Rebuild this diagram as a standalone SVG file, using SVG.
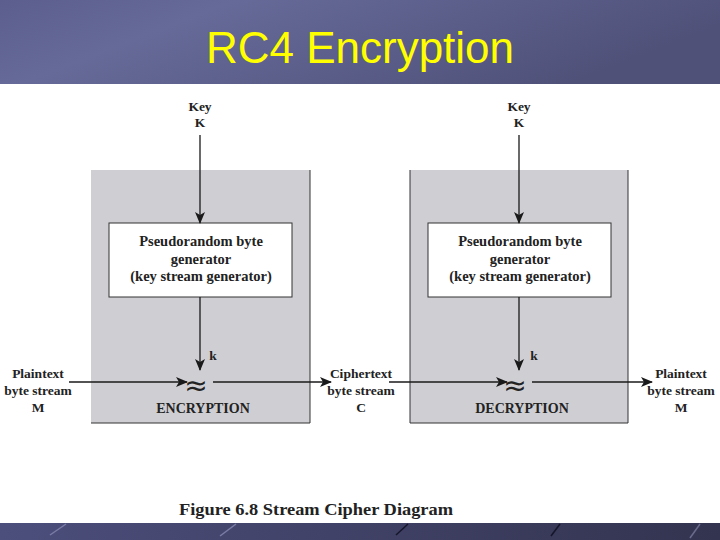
<svg xmlns="http://www.w3.org/2000/svg" width="720" height="540" viewBox="0 0 720 540">
<defs>
<linearGradient id="hdr" x1="0" y1="0" x2="1" y2="0.3">
<stop offset="0" stop-color="#5c5f8d"/>
<stop offset="0.3" stop-color="#666a98"/>
<stop offset="1" stop-color="#4f5179"/>
</linearGradient>
<linearGradient id="ftr" x1="0" y1="0" x2="1" y2="0">
<stop offset="0" stop-color="#4c4e7c"/>
<stop offset="1" stop-color="#33344f"/>
</linearGradient>
<marker id="ah" viewBox="0 0 12 10" refX="11" refY="5" markerWidth="12" markerHeight="10" markerUnits="userSpaceOnUse" orient="auto">
<path d="M0,0 L12,5 L0,10 L3,5 Z" fill="#1a1a1a"/>
</marker>
<style>
.t{font-family:"Liberation Serif","Times New Roman",serif;font-weight:bold;font-size:13.5px;fill:#222;text-anchor:middle}
.c{font-family:"Liberation Serif","Times New Roman",serif;font-weight:bold;font-size:14px;fill:#222;text-anchor:middle}
.b{font-family:"Liberation Serif","Times New Roman",serif;font-size:14.5px;fill:#222;text-anchor:middle;font-weight:bold}
.ln{stroke:#1a1a1a;stroke-width:1.3;fill:none}
.panel{fill:#cfcfd3}
.edge{stroke:#333;stroke-width:1;fill:none}
.gen{fill:#fff;stroke:#333;stroke-width:1}
.x{font-family:"DejaVu Sans",sans-serif;font-size:28px;fill:#222;text-anchor:middle}
</style>
</defs>
<rect x="0" y="0" width="720" height="540" fill="#fff"/>
<rect x="0" y="0" width="720" height="84" fill="url(#hdr)"/>
<text x="360" y="63" font-family="'Liberation Sans',Arial,sans-serif" font-size="44" fill="#ffff00" text-anchor="middle">RC4 Encryption</text>
<rect x="0" y="523" width="720" height="17" fill="url(#ftr)"/>
<g stroke-width="1.5" fill="none">
<line x1="50" y1="535" x2="66" y2="524" stroke="#7a7ca6"/>
<line x1="220" y1="536" x2="236" y2="524" stroke="#7a7ca6"/>
<line x1="396" y1="535" x2="408" y2="524" stroke="#15162a"/>
<line x1="551" y1="536" x2="560" y2="524" stroke="#15162a"/>
<line x1="690" y1="538" x2="700" y2="524" stroke="#6a6b8c"/>
</g>

<g id="enc-panel">
<rect class="panel" x="91" y="170" width="219" height="253"/>
<polyline class="edge" points="310,170 310,423 91,423"/>
</g>
<g id="dec-panel">
<rect class="panel" x="410" y="170" width="218" height="253"/>
<polyline class="edge" points="410,170 410,423 628,423 628,170"/>
</g>

<g id="key1"><text class="t" x="200" y="111">Key</text><text class="t" x="200" y="127">K</text></g>
<g id="key2"><text class="t" x="519" y="111">Key</text><text class="t" x="519" y="127">K</text></g>

<g id="gen1">
<rect class="gen" x="109" y="223" width="183" height="74"/>
<text class="b" x="201" y="246">Pseudorandom byte</text>
<text class="b" x="201" y="264">generator</text>
<text class="b" x="201" y="281">(key stream generator)</text>
</g>
<g id="gen2">
<rect class="gen" x="428" y="223" width="183" height="74"/>
<text class="b" x="520" y="246">Pseudorandom byte</text>
<text class="b" x="520" y="264">generator</text>
<text class="b" x="520" y="281">(key stream generator)</text>
</g>

<g id="xor1"><text class="x" x="196" y="395">≈</text></g>
<g id="xor2"><text class="x" x="515" y="395">≈</text></g>

<g id="plain-in"><text class="t" x="38" y="378">Plaintext</text><text class="t" x="38" y="395">byte stream</text><text class="t" x="38" y="412">M</text></g>
<g id="cipher"><text class="t" x="361" y="378">Ciphertext</text><text class="t" x="361" y="395">byte stream</text><text class="t" x="361" y="412">C</text></g>
<g id="plain-out"><text class="t" x="681" y="378">Plaintext</text><text class="t" x="681" y="395">byte stream</text><text class="t" x="681" y="412">M</text></g>

<g id="enc-label"><text class="c" x="203" y="413">ENCRYPTION</text></g>
<g id="dec-label"><text class="c" x="522" y="413">DECRYPTION</text></g>

<g id="connectors">
<line class="ln" x1="200" y1="135" x2="200" y2="223" marker-end="url(#ah)"/>
<line class="ln" x1="519" y1="135" x2="519" y2="223" marker-end="url(#ah)"/>
<line class="ln" x1="200" y1="297" x2="200" y2="370" marker-end="url(#ah)"/>
<line class="ln" x1="519" y1="297" x2="519" y2="370" marker-end="url(#ah)"/>
<line class="ln" x1="69" y1="382" x2="187" y2="382" marker-end="url(#ah)"/>
<line class="ln" x1="213" y1="382" x2="331" y2="382" marker-end="url(#ah)"/>
<line class="ln" x1="389" y1="382" x2="507" y2="382" marker-end="url(#ah)"/>
<line class="ln" x1="532" y1="382" x2="652" y2="382" marker-end="url(#ah)"/>
<text class="t" x="213" y="360">k</text>
<text class="t" x="534" y="360">k</text>
</g>

<text x="179" y="515" font-family="'Liberation Serif','Times New Roman',serif" font-weight="bold" font-size="17" fill="#222" textLength="274" lengthAdjust="spacingAndGlyphs">Figure 6.8  Stream Cipher Diagram</text>
</svg>
